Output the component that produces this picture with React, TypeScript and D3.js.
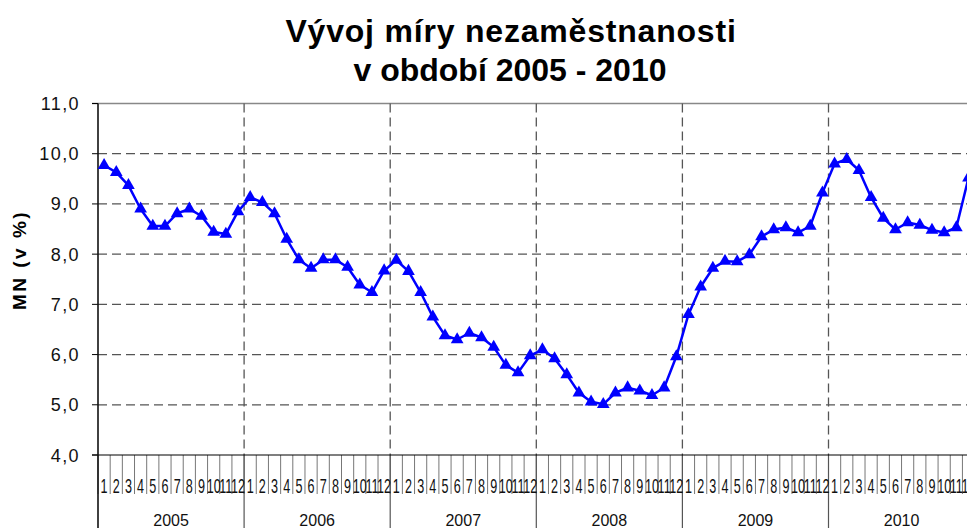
import React, { useEffect, useRef } from 'react';
import * as d3 from 'd3';

// unemployment rate (%) per month
const years = ['2005', '2006', '2007', '2008', '2009', '2010'];
const monthLabels = ['1', '2', '3', '4', '5', '6', '7', '8', '9', '10', '11', '12'];
const u2005 = [9.77, 9.63, 9.37, 8.9, 8.56, 8.56, 8.81, 8.9, 8.76, 8.44, 8.4, 8.85];
const u2006 = [9.13, 9.03, 8.81, 8.3, 7.89, 7.72, 7.89, 7.89, 7.74, 7.39, 7.24, 7.67];
const u2007 = [7.88, 7.66, 7.24, 6.75, 6.38, 6.3, 6.43, 6.34, 6.15, 5.79, 5.64, 5.98];
const u2008 = [6.1, 5.92, 5.6, 5.24, 5.06, 5.01, 5.24, 5.34, 5.28, 5.19, 5.34, 5.96];
const u2009 = [6.8, 7.35, 7.72, 7.86, 7.85, 7.99, 8.35, 8.49, 8.53, 8.43, 8.56, 9.22];
const u2010 = [9.8, 9.89, 9.67, 9.13, 8.72, 8.49, 8.63, 8.58, 8.48, 8.43, 8.53, 9.52];
const yTicks = [4, 5, 6, 7, 8, 9, 10, 11];

const W = 967;
const H = 528;

export default function App() {
  const ref = useRef<SVGSVGElement>(null);

  useEffect(() => {
    const svg = d3.select(ref.current);
    svg.selectAll('*').remove();

    const series = [u2005, u2006, u2007, u2008, u2009, u2010];
    const data = series.flatMap((vals, yi) =>
      vals.map((v, mi) => ({ key: years[yi] + '-' + (mi + 1), year: years[yi], month: monthLabels[mi], v }))
    );

    const left = 98, top = 103.5, bottom = 455;
    const right = left + 6 * 146.1; // plot runs past the window edge, like the original

    const x = d3.scaleBand().domain(data.map(d => d.key)).range([left, right]).padding(0);
    const xYear = d3.scaleBand().domain(years).range([left, right]).padding(0);
    const y = d3.scaleLinear().domain([4, 11]).range([bottom, top]);

    const font = 'Liberation Sans, Arial, sans-serif';

    // title
    const title = svg.append('text')
      .attr('text-anchor', 'middle')
      .style('font-family', font).style('font-weight', 'bold').style('font-size', '32px')
      .attr('fill', '#000');
    title.append('tspan').attr('x', 511).attr('y', 42).style('letter-spacing', '0.8px').text('Vývoj míry nezaměstnanosti');
    title.append('tspan').attr('x', 510).attr('y', 81).text('v období 2005 - 2010');

    // horizontal grid
    svg.append('g').selectAll('line').data(yTicks.filter(t => t > 4 && t < 11)).join('line')
      .attr('x1', left).attr('x2', W)
      .attr('y1', d => y(d)).attr('y2', d => y(d))
      .attr('stroke', '#555').attr('stroke-width', 1.3).attr('stroke-dasharray', '9,5');

    // top border
    svg.append('line').attr('x1', left - 6).attr('x2', W).attr('y1', y(11)).attr('y2', y(11))
      .attr('stroke', '#888').attr('stroke-width', 1.5);

    // vertical year grid
    svg.append('g').selectAll('line').data(years.slice(1)).join('line')
      .attr('x1', d => xYear(d)!).attr('x2', d => xYear(d)!)
      .attr('y1', top).attr('y2', bottom)
      .attr('stroke', '#555').attr('stroke-width', 1.3).attr('stroke-dasharray', '9,5');

    // y axis ticks + labels
    const yg = svg.append('g');
    yg.selectAll('line').data(yTicks).join('line')
      .attr('x1', left - 6).attr('x2', left).attr('y1', d => y(d)).attr('y2', d => y(d))
      .attr('stroke', '#000').attr('stroke-width', 1);
    yg.selectAll('text').data(yTicks).join('text')
      .attr('x', 80).attr('y', d => y(d) + 6.5)
      .attr('text-anchor', 'end')
      .style('font-family', font).style('font-size', '18px').style('letter-spacing', '1.4px')
      .attr('fill', '#111')
      .text(d => d3.format('.1f')(d).replace('.', ','));

    svg.append('text')
      .attr('transform', 'translate(26,260) rotate(-90)')
      .attr('text-anchor', 'middle')
      .style('font-family', font).style('font-weight', 'bold').style('font-size', '19px').style('letter-spacing', '2.5px')
      .attr('fill', '#000')
      .text('MN (v %)');

    // x axis: month ticks, year separators, labels
    const xg = svg.append('g');
    xg.selectAll('line.m').data(data).join('line').attr('class', 'm')
      .attr('x1', d => x(d.key)!).attr('x2', d => x(d.key)!)
      .attr('y1', bottom).attr('y2', 494)
      .attr('stroke', '#777').attr('stroke-width', 1);
    xg.selectAll('line.yr').data(years.slice(1)).join('line').attr('class', 'yr')
      .attr('x1', d => xYear(d)!).attr('x2', d => xYear(d)!)
      .attr('y1', bottom).attr('y2', H)
      .attr('stroke', '#555').attr('stroke-width', 1.2);
    xg.selectAll('g.ml').data(data).join('g').attr('class', 'ml')
      .attr('transform', d => `translate(${x(d.key)! + x.bandwidth() / 2},${493}) scale(0.63,1)`)
      .append('text')
      .attr('text-anchor', 'middle')
      .style('font-family', font).style('font-size', '20px')
      .attr('fill', '#111')
      .text(d => d.month);
    xg.selectAll('text.yl').data(years).join('text').attr('class', 'yl')
      .attr('x', d => xYear(d)! + xYear.bandwidth() / 2).attr('y', 526)
      .attr('text-anchor', 'middle')
      .style('font-family', font).style('font-size', '16px')
      .attr('fill', '#111')
      .text(d => d);

    // axes lines
    svg.append('line').attr('x1', left - 6).attr('x2', W).attr('y1', bottom).attr('y2', bottom)
      .attr('stroke', '#000').attr('stroke-width', 1.2);
    svg.append('line').attr('x1', left).attr('x2', left).attr('y1', top).attr('y2', H)
      .attr('stroke', '#111').attr('stroke-width', 1.6);

    // series
    const cx = (d: { key: string }) => x(d.key)! + x.bandwidth() / 2;
    svg.append('path').datum(data)
      .attr('fill', 'none').attr('stroke', '#0000ff').attr('stroke-width', 2.5)
      .attr('stroke-linejoin', 'round')
      .attr('d', d3.line<typeof data[number]>().x(cx).y(d => y(d.v)));
    svg.append('g').selectAll('path').data(data).join('path')
      .attr('transform', d => `translate(${cx(d)},${y(d.v)})`)
      .attr('d', d3.symbol(d3.symbolTriangle, 70)()!)
      .attr('fill', '#0000ff');
  }, []);

  return (
    <svg ref={ref} width={W} height={H}
      style={{ position: 'absolute', left: 0, top: 0, display: 'block', background: '#fff' }} />
  );
}
